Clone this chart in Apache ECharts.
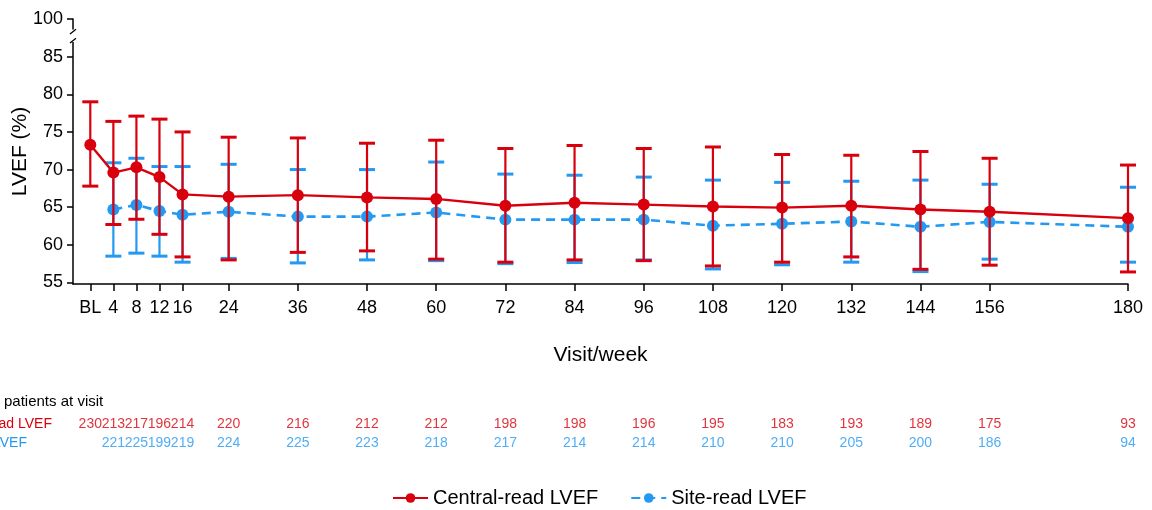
<!DOCTYPE html>
<html>
<head>
<meta charset="utf-8">
<style>
html,body{margin:0;padding:0;background:#fff;}
#chart{width:1152px;height:510px;}
</style>
<script src="https://cdn.jsdelivr.net/npm/echarts@6/dist/echarts.min.js"></script>
</head>
<body>
<div id="chart"></div>
<script>
// ---------- data ----------
const weeks = [0,4,8,12,16,24,36,48,60,72,84,96,108,120,132,144,156,180];
const weekLabels = ['BL','4','8','12','16','24','36','48','60','72','84','96','108','120','132','144','156','180'];
const centralMean  = [73.3,69.6,70.3,69.0,66.7,66.4,66.6,66.3,66.1,65.2,65.6,65.35,65.1,64.95,65.2,64.7,64.4,63.55];
const centralUpper = [79.0,76.4,77.1,76.7,75.0,74.3,74.2,73.5,73.9,72.8,73.2,72.8,73.0,72.0,71.9,72.4,71.5,70.6];
const centralLower = [67.8,62.7,63.4,61.4,58.4,58.0,59.0,59.2,58.1,57.7,58.0,57.9,57.2,57.7,58.4,56.75,57.3,56.4];
const siteWeeks = [4,8,12,16,24,36,48,60,72,84,96,108,120,132,144,156,180];
const siteMean  = [64.7,65.3,64.5,64.0,64.4,63.75,63.75,64.3,63.35,63.35,63.35,62.55,62.8,63.1,62.4,63.05,62.4];
const siteUpper = [70.9,71.5,70.4,70.4,70.7,70.0,70.0,71.0,69.4,69.25,69.0,68.6,68.3,68.45,68.6,68.05,67.65];
const siteLower = [58.5,58.9,58.5,57.7,58.2,57.6,58.0,57.9,57.5,57.65,58.0,56.8,57.35,57.7,56.45,58.1,57.7];
const centralN = [230,213,217,196,214,220,216,212,212,198,198,196,195,183,193,189,175,93];
const siteN    = [221,225,199,219,224,225,223,218,217,214,214,210,210,205,200,186,94];
const yTickValues = [55,60,65,70,75,80,85,90];   // 90 is the slot where "100" is drawn (axis break)
const yTickLabels = ['55','60','65','70','75','80','85','100'];
const seriesNames = ['Central-read LVEF','Site-read LVEF'];
const tableTitle = 'Number of patients at visit';

// ---------- style ----------
const RED = '#d9000d';
const BLUE = '#2399f2';
const FONT = "'Liberation Sans', Arial, sans-serif";

const chart = echarts.init(document.getElementById('chart'), null, {renderer:'canvas'});

function errRender(color){
  return function(params, api){
    const x = api.value(0), lo = api.value(1), hi = api.value(2);
    const a = api.coord([x, lo]), b = api.coord([x, hi]);
    const cw = 8;
    return {type:'group', children:[
      {type:'line', shape:{x1:a[0],y1:a[1],x2:b[0],y2:b[1]}, style:{stroke:color,lineWidth:2.2}},
      {type:'line', shape:{x1:a[0]-cw,y1:a[1],x2:a[0]+cw,y2:a[1]}, style:{stroke:color,lineWidth:3}},
      {type:'line', shape:{x1:b[0]-cw,y1:b[1],x2:b[0]+cw,y2:b[1]}, style:{stroke:color,lineWidth:3}}
    ]};
  };
}

const option = {
  animation:false,
  textStyle:{fontFamily:FONT},
  grid:[
    {left:73, right:24, top:19, bottom:226, containLabel:false, outerBoundsMode:'none'},
    {left:73, right:24, top:414.5, height:38, containLabel:false, outerBoundsMode:'none'}
  ],
  xAxis:[
    {type:'value', gridIndex:0, min:-3, max:180,
     name:'Visit/week', nameLocation:'middle', nameGap:61, nameMoveOverlap:false,
     nameTextStyle:{fontSize:21, color:'#000', fontFamily:FONT},
     axisLine:{show:true, onZero:false, lineStyle:{color:'#000', width:1.5}},
     axisTick:{show:true, length:7, lineStyle:{color:'#000', width:1.5}, customValues:weeks},
     axisLabel:{fontSize:18, color:'#000', margin:15, fontFamily:FONT, customValues:weeks,
       formatter:v => weekLabels[weeks.indexOf(v)]},
     splitLine:{show:false}},
    {type:'value', gridIndex:1, min:-3, max:180, show:false}
  ],
  yAxis:[
    {type:'value', gridIndex:0, min:54.8, max:90,
     name:'LVEF (%)', nameLocation:'middle', nameGap:42, nameRotate:90, nameMoveOverlap:false,
     nameTextStyle:{fontSize:21, color:'#000', fontFamily:FONT},
     axisLine:{show:true, onZero:false, lineStyle:{color:'#000', width:1.5}},
     axisTick:{show:true, length:6, lineStyle:{color:'#000', width:1.5}, customValues:yTickValues},
     axisLabel:{fontSize:18, color:'#000', margin:10, fontFamily:FONT, customValues:yTickValues,
       formatter:v => yTickLabels[yTickValues.indexOf(v)]},
     splitLine:{show:false}},
    {type:'category', gridIndex:1, data:['site','central'], show:false}
  ],
  legend:{
    data:seriesNames, left:387, top:483, itemWidth:35, itemHeight:12, itemGap:32,
    textStyle:{fontSize:20, color:'#000', fontFamily:FONT}
  },
  series:[
    {type:'custom', name:'site-err', xAxisIndex:0, yAxisIndex:0, z:1,
     renderItem:errRender(BLUE), data:siteWeeks.map((w,i)=>[w, siteLower[i], siteUpper[i]])},
    {type:'line', name:seriesNames[1], xAxisIndex:0, yAxisIndex:0, z:2,
     data:siteWeeks.map((w,i)=>[w, siteMean[i]]),
     symbol:'circle', symbolSize:12, itemStyle:{color:BLUE},
     lineStyle:{color:BLUE, width:2.6, type:[9,6]}},
    {type:'custom', name:'central-err', xAxisIndex:0, yAxisIndex:0, z:3,
     renderItem:errRender(RED), data:weeks.map((w,i)=>[w, centralLower[i], centralUpper[i]])},
    {type:'line', name:seriesNames[0], xAxisIndex:0, yAxisIndex:0, z:4,
     data:weeks.map((w,i)=>[w, centralMean[i]]),
     symbol:'circle', symbolSize:12, itemStyle:{color:RED},
     lineStyle:{color:RED, width:2.4}},
    {type:'scatter', name:'central-n', xAxisIndex:1, yAxisIndex:1, symbolSize:1,
     itemStyle:{color:'transparent'}, silent:true,
     data:weeks.map((w,i)=>[w,'central',centralN[i]]),
     label:{show:true, position:'inside', formatter:p=>p.value[2], color:RED, fontSize:14, fontFamily:FONT}},
    {type:'scatter', name:'site-n', xAxisIndex:1, yAxisIndex:1, symbolSize:1,
     itemStyle:{color:'transparent'}, silent:true,
     data:siteWeeks.map((w,i)=>[w,'site',siteN[i]]),
     label:{show:true, position:'inside', formatter:p=>p.value[2], color:BLUE, fontSize:14, fontFamily:FONT}}
  ]
};
chart.setOption(option);

// axis break marks and table row titles
const ax = chart.convertToPixel({gridIndex:0}, [-3, 88.4]);
const gTop = chart.convertToPixel({gridIndex:0}, [-3, 88.6]);
const gBot = chart.convertToPixel({gridIndex:0}, [-3, 86.95]);
const s1a = chart.convertToPixel({gridIndex:0}, [-3, 88.0]);
const s1b = chart.convertToPixel({gridIndex:0}, [-3, 88.65]);
const s2a = chart.convertToPixel({gridIndex:0}, [-3, 86.8]);
const s2b = chart.convertToPixel({gridIndex:0}, [-3, 87.45]);
const rowC = chart.convertToPixel({gridIndex:1}, [-3, 'central']);
const rowS = chart.convertToPixel({gridIndex:1}, [-3, 'site']);
const ctx = document.createElement('canvas').getContext('2d');
ctx.font = '15px ' + FONT;
const titleX = 4 - ctx.measureText('Number of ').width;
chart.setOption({graphic:[
  {type:'rect', shape:{x:ax[0]-3, y:gTop[1], width:6, height:gBot[1]-gTop[1]}, style:{fill:'#fff'}, z:100},
  {type:'line', shape:{x1:s1a[0]-3,y1:s1a[1],x2:s1b[0]+3,y2:s1b[1]}, style:{stroke:'#000',lineWidth:1.3}, z:101},
  {type:'line', shape:{x1:s2a[0]-3,y1:s2a[1],x2:s2b[0]+3,y2:s2b[1]}, style:{stroke:'#000',lineWidth:1.3}, z:101},
  {type:'text', x:titleX, y:rowC[1]-22, style:{text:tableTitle, fill:'#000', font:'15px '+FONT, textVerticalAlign:'middle'}},
  {type:'text', x:52, y:rowC[1], style:{text:seriesNames[0], fill:RED, font:'14px '+FONT, textAlign:'right', textVerticalAlign:'middle'}},
  {type:'text', x:27, y:rowS[1], style:{text:seriesNames[1], fill:BLUE, font:'14px '+FONT, textAlign:'right', textVerticalAlign:'middle'}}
]});
</script>
</body>
</html>
